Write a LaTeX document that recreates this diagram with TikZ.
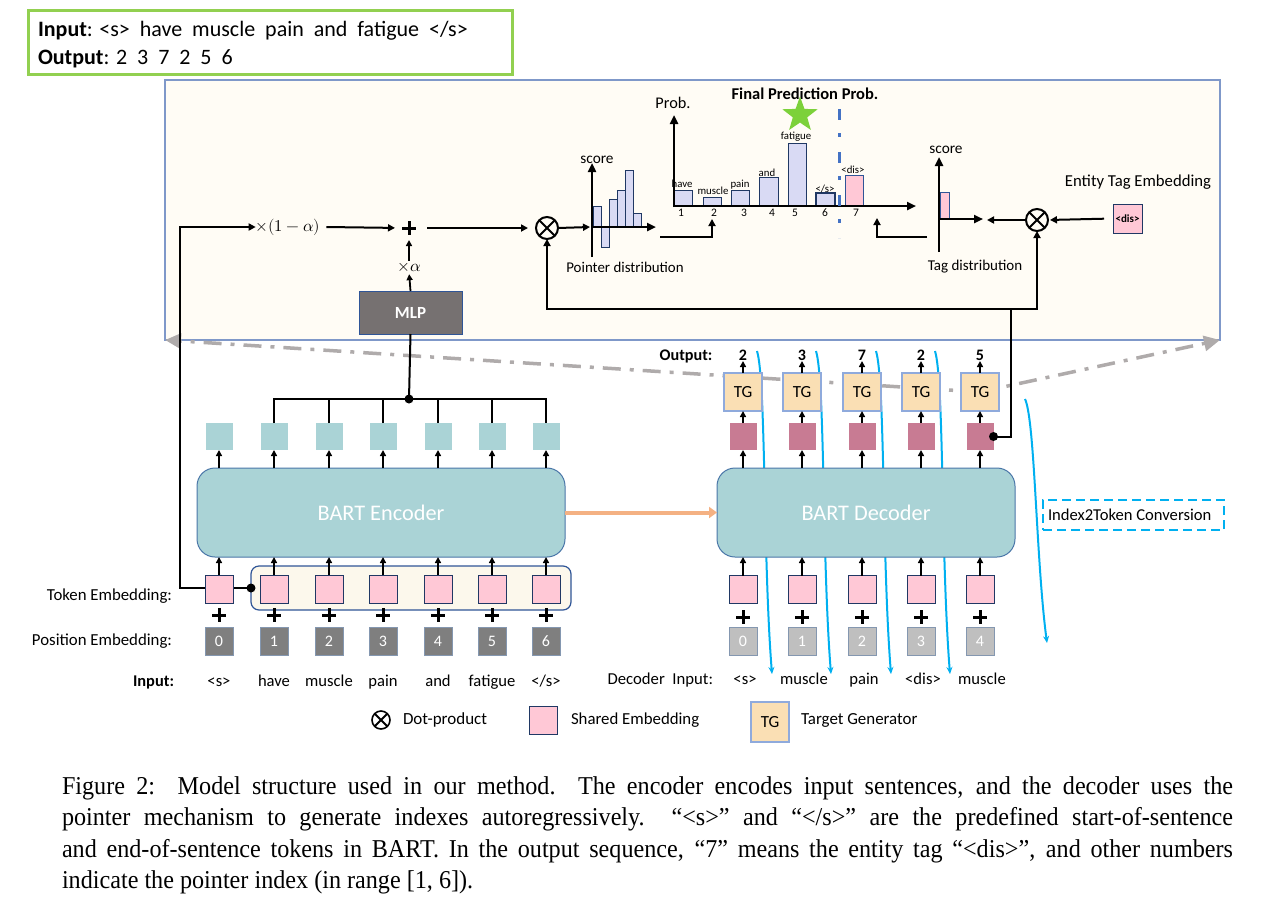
\documentclass[tikz,border=0pt]{standalone}
\usepackage{fontspec}
\usepackage{unicode-math}
\setmainfont{Carlito}
\setmathfont{Latin Modern Math}
\newfontfamily\capfont[FakeStretch=0.94]{Liberation Serif}
\usetikzlibrary{arrows.meta,shapes.geometric,calc}
\newcommand\fsz[1]{\fontsize{#1pt}{#1pt}\selectfont}
\definecolor{greenbox}{HTML}{92D050}
\definecolor{panelfill}{HTML}{FFFCF5}
\definecolor{panelline}{HTML}{7F98C9}
\definecolor{tealc}{HTML}{AAD3D6}
\definecolor{encline}{HTML}{4A76A8}
\definecolor{pinkc}{HTML}{FFC8D6}
\definecolor{navy}{HTML}{203864}
\definecolor{mauve}{HTML}{C87B93}
\definecolor{tgfill}{HTML}{FADFB4}
\definecolor{tgline}{HTML}{8FAADC}
\definecolor{posdark}{HTML}{7F7F7F}
\definecolor{poslight}{HTML}{BFBFBF}
\definecolor{posline}{HTML}{8497B0}
\definecolor{lav}{HTML}{D9DAF4}
\definecolor{contfill}{HTML}{FCF8EC}
\definecolor{contline}{HTML}{2F5597}
\definecolor{mlpfill}{HTML}{767171}
\definecolor{orangec}{HTML}{F4B183}
\definecolor{cyanc}{HTML}{00B0F0}
\definecolor{bluedd}{HTML}{4472C4}
\definecolor{starg}{HTML}{7CD13A}
\definecolor{grayd}{HTML}{AFABAB}
\begin{document}
\begin{tikzpicture}[x=1pt,y=-1pt,
  every node/.style={inner sep=0pt, outer sep=0pt},
  arr/.style={line width=2pt, -{Triangle[length=7pt,width=7pt]}},
  sarr/.style={line width=1.8pt, -{Triangle[length=6pt,width=6pt]}},
  axis/.style={line width=2.3pt, -{Triangle[length=9pt,width=8pt]}},
  ln/.style={line width=2pt},
  barst/.style={fill=lav, draw=navy, line width=0.9pt},
  otimes/.style={circle, draw, line width=2pt, minimum size=#1,
    path picture={\draw[line width=2pt] (path picture bounding box.north west) -- (path picture bounding box.south east) (path picture bounding box.north east) -- (path picture bounding box.south west);}},
  plusn/.style={minimum size=14pt,
    path picture={\draw[line width=3pt] (path picture bounding box.north) -- (path picture bounding box.south) (path picture bounding box.west) -- (path picture bounding box.east);}},
  tealsq/.style={fill=tealc, minimum size=27pt},
  mauvesq/.style={fill=mauve, minimum size=27pt},
  pinksq/.style={fill=pinkc, draw=navy, line width=1pt, minimum size=28pt},
  possq/.style={fill=#1, draw=posline, line width=0.8pt, minimum size=28pt, text=white, font=\fsz{16}},
  tgbox/.style={fill=tgfill, draw=tgline, line width=1.2pt, minimum size=38pt, font=\fsz{17}},
  bart/.style={fill=tealc, draw=encline, line width=1pt, rounded corners=18pt, text=white, font=\fsz{22.3}},
  graydd/.style={draw=grayd, line width=3.5pt, dash pattern=on 18pt off 9pt on 4pt off 9pt, -{Triangle[length=16pt,width=15pt]}},
  cyancurve/.style={draw=cyanc, line width=2pt, -{Stealth[length=7pt,width=6pt]}},
]
\useasboundingbox (0,0) rectangle (1279,900);

% ---------- top-left input/output box
\node[draw=greenbox, line width=3pt, minimum width=484pt, minimum height=64pt, anchor=north west] (iobox) at (28,10) {};
\node[anchor=base west, font=\fsz{22}] (intext) at (38,36) {\textbf{Input}: <s>\ \ have\ \ muscle\ \ pain\ \ and\ \ fatigue\ \ </s>};
\node[anchor=base west, font=\fsz{22}] (outtext) at (38,64) {\textbf{Output}: 2\ \ 3\ \ 7\ \ 2\ \ 5\ \ 6};

% ---------- panel
\node[draw=panelline, fill=panelfill, line width=1.2pt, minimum width=1055pt, minimum height=260pt, anchor=north west] (panel) at (165,80) {};

% gray dash-dot zoom lines (behind)
\coordinate (tgc) at (980,392);
\draw[graydd] (tgc) -- (panel.south west);
\draw[graydd] (tgc) -- (panel.south east);

% cyan curves (behind decoder)
\foreach \x in {743,802,862,921}{
  \draw[cyancurve] (\x+14,351) .. controls (\x+23,380) and (\x+20,560) .. (\x+29,674);
}
\draw[cyancurve] (1025,399) .. controls (1035,420) and (1036,560) .. (1047,643);

% ---------- panel content
\node[font=\fsz{16.5}] (om) at (288,227) {$\times(1-\alpha)$};
\node[plusn] (plus) at (409,228) {};
\node[font=\fsz{16.5}] (xa) at (409,268) {$\times\alpha$};
\node[fill=mlpfill, draw=contline, line width=1pt, minimum width=103pt, minimum height=43pt, text=white, font=\bfseries\fsz{17}] (mlp) at (410.5,312.5) {MLP};
\node[otimes=22pt] (dot1) at (547,228) {};
\draw[arr, shorten >=7pt] (om.east) ++(6,0) -- (plus.west);
\draw[arr, shorten <=11pt, shorten >=8pt] (plus.east) -- (dot1.west);
\draw[sarr, shorten >=2pt] (mlp.north) -- (xa.south);
\draw[sarr, shorten <=3pt, shorten >=5pt] (xa.north) -- (plus.south);

% pointer chart
\foreach \xa/\xb/\yt in {593.3/601.7/206, 601.7/609.3/247, 609.3/617.3/199, 617.3/625/190, 625/633.3/170, 633.3/641/213}
  \draw[barst] (\xa,227) rectangle (\xb,\yt);
\draw[axis] (592,257) -- (592,163);
\draw[axis] (592,227) -- (656,227);
\draw[arr] (dot1.east) -- (590,227);
\node[font=\fsz{15.3}] (sc1) at (597,160) {score};
\node[font=\fsz{14.9}] (pd) at (625,267) {Pointer distribution};
\draw[arr] (660,237) -- (712,237) -- (712,219);

% final prediction chart
\foreach \xa/\xb/\yt in {674/692/190, 703/721/197, 731/749/190, 759/778/177, 788/806/143}
  \draw[barst] (\xa,206) rectangle (\xb,\yt);
\draw[fill=lav, draw=navy, line width=1.6pt] (816,206) rectangle (835,193);
\draw[fill=pinkc, draw=contline, line width=1pt] (845,206) rectangle (863,175);
\draw[axis] (674,207) -- (674,115);
\draw[axis] (674,206) -- (916,206);
\foreach \t/\x/\y in {have/682/184, muscle/713/191, pain/740/185, and/767/173, fatigue/796/137, {</s>}/825/189, {<dis>}/853/170}
  \node[font=\fsz{10.8}] at (\x,\y) {\t};
\foreach \t/\x in {1/681,2/714,3/744,4/772,5/795,6/825,7/856}
  \node[font=\fsz{11.5}] at (\x,213) {\t};
\node[font=\fsz{16.3}] (prob) at (673,103) {Prob.};
\node[font=\bfseries\fsz{16.5}] (fpp) at (805,94) {Final Prediction Prob.};
\draw[bluedd, line width=3pt, dash pattern=on 11pt off 13pt on 4pt off 15pt] (839,109) -- (839,238);
\node[star, star points=5, star point ratio=2.45, fill=starg, minimum size=37pt] (star) at (800,115) {};

% tag chart
\draw[fill=pinkc, draw=contline, line width=1pt] (940,219) rectangle (949,192);
\draw[axis] (939,252) -- (939,157);
\draw[axis] (939,219) -- (983,219);
\node[font=\fsz{15.3}] (sc2) at (946,150) {score};
\node[font=\fsz{15}] (td) at (975,267) {Tag distribution};
\draw[arr] (927,237) -- (877,237) -- (877,218);
\node[otimes=22pt] (dot2) at (1037,220) {};
\draw[arr] (dot2.west) -- (987,220);
\node[fill=pinkc, draw=navy, line width=1pt, minimum size=29pt, font=\bfseries\fsz{11}] (dis) at (1127.5,218.5) {<dis>};
\draw[arr, shorten <=9pt, shorten >=2pt] (dis.west) -- (dot2.east);
\node[font=\fsz{16.7}] (ete) at (1138,182) {Entity Tag Embedding};

% ---------- encoder
\node[bart, minimum width=368pt, minimum height=89pt] (enc) at (381,512.5) {BART Encoder};
\node[fill=contfill, draw=contline, line width=1.2pt, rounded corners=8pt, minimum width=320pt, minimum height=44pt] (cont) at (411,588) {};
\foreach \i/\x in {1/219,2/274,3/329,4/383,5/438,6/492,7/546}{
  \node[tealsq] (eo\i) at (\x,436.5) {};
  \draw[sarr] (\x,468) -- (eo\i.south);
}
% line from token embedding container to x(1-alpha)
\draw[arr] (cont.west) -- (180,588) |- (om.west);
\fill (cont.west) circle (4.5pt);
\foreach \i/\x/\w in {1/219/{<s>},2/274/have,3/329/muscle,4/383/pain,5/438/and,6/492/fatigue,7/546/{</s>}}{
  \pgfmathtruncatemacro{\d}{\i-1}
  \node[pinksq] (te\i) at (\x,589) {};
  \draw[sarr] (te\i.north) -- (\x,557);
  \node[plusn] (pl\i) at (\x,615) {};
  \node[possq=posdark] (pe\i) at (\x,641) {\d};
  \node[anchor=base, font=\fsz{16.6}] (w\i) at (\x,686) {\w};
}
% bus to MLP
\coordinate (busdot) at (409,399);
\draw[ln] (eo2.north) |- (busdot) -| (eo7.north);
\foreach \i in {3,4,5,6} \draw[ln] (eo\i.north) -- (eo\i.north |- busdot);
\draw[ln] (busdot) -- (mlp.south);
\fill (busdot) circle (4.5pt);
\node[anchor=base east, font=\bfseries\fsz{16.4}] (inl) at (174,686) {Input:};
\node[anchor=east, font=\fsz{16.8}] (tel) at (172,596) {Token Embedding:};
\node[anchor=east, font=\fsz{16.8}] (pel) at (172,641) {Position Embedding:};

% ---------- decoder
\node[bart, minimum width=298pt, minimum height=89pt] (dec) at (866,512.5) {BART Decoder};
\draw[line width=4pt, orangec, -{Triangle[length=8pt,width=11pt]}] (enc.east) -- (dec.west);
\node[anchor=base, font=\bfseries\fsz{16.2}] (outl) at (686,360) {Output:};
\foreach \i/\x/\o/\w in {1/743/2/{<s>},2/802/3/muscle,3/862/7/pain,4/921/2/{<dis>},5/980/5/muscle}{
  \pgfmathtruncatemacro{\d}{\i-1}
  \node[mauvesq] (do\i) at (\x,436.5) {};
  \node[tgbox] (tg\i) at (\x,392) {TG};
  \node[anchor=base, font=\bfseries\fsz{16}] (on\i) at (\x,360) {\o};
  \draw[sarr] (\x,468) -- (do\i.south);
  \draw[sarr] (do\i.north) -- (tg\i.south);
  \draw[sarr, shorten >=1pt] (tg\i.north) -- (\x,360);
  \node[pinksq] (di\i) at (\x,589.5) {};
  \draw[sarr] (di\i.north) -- (\x,557);
  \node[plusn] (dpl\i) at (\x,617) {};
  \node[possq=poslight] (dp\i) at (\x,641.5) {\d};
  \node[anchor=base, font=\fsz{16.6}] (dw\i) at (\x+2,684) {\w};
}
\node[anchor=base east, font=\fsz{16.7}] (dil) at (713,684) {Decoder\ \ Input:};
% connection from last decoder output to dot-products
\coordinate (jn) at (1011,309);
\draw[ln] (do5.east) -| (jn);
\draw[arr] (jn) -| (dot2.south);
\draw[arr] (jn) -| (dot1.south);
\fill (do5.east) circle (4.5pt);

% index2token
\node[draw=cyanc, line width=2.5pt, dash pattern=on 9pt off 5pt, minimum width=181pt, minimum height=30pt, anchor=west] (i2t) at (1043,515) {};
\node[anchor=west, font=\fsz{16.6}] (i2tt) at (1048,515) {Index2Token Conversion};

% ---------- legend
\node[otimes=18pt, line width=1.6pt] (lg1) at (381,720) {};
\node[anchor=west, font=\fsz{17}] (lg1t) at (403,720) {Dot-product};
\node[pinksq] (lg2) at (543,720) {};
\node[anchor=west, font=\fsz{16.8}] (lg2t) at (571,720) {Shared Embedding};
\node[tgbox, minimum height=40pt] (lg3) at (770,722) {TG};
\node[anchor=west, font=\fsz{16.9}] (lg3t) at (801,720) {Target Generator};

% ---------- caption
\node[anchor=base west, font=\capfont\fsz{25.7}] (cap1) at (62,794) {\makebox[1171pt][s]{Figure 2:\ \ Model structure used in our method.\ \ The encoder encodes input sentences, and the decoder uses the}};
\node[anchor=base west, font=\capfont\fsz{25.7}] (cap2) at (62,825) {\makebox[1171pt][s]{pointer mechanism to generate indexes autoregressively.\ \ “<s>” and “</s>” are the predefined start-of-sentence}};
\node[anchor=base west, font=\capfont\fsz{25.7}] (cap3) at (62,857) {\makebox[1171pt][s]{and end-of-sentence tokens in BART. In the output sequence, “7” means the entity tag “<dis>”, and other numbers}};
\node[anchor=base west, font=\capfont\fsz{25.7}] (cap4) at (62,888) {indicate the pointer index (in range [1, 6]).};
\end{tikzpicture}
\end{document}
